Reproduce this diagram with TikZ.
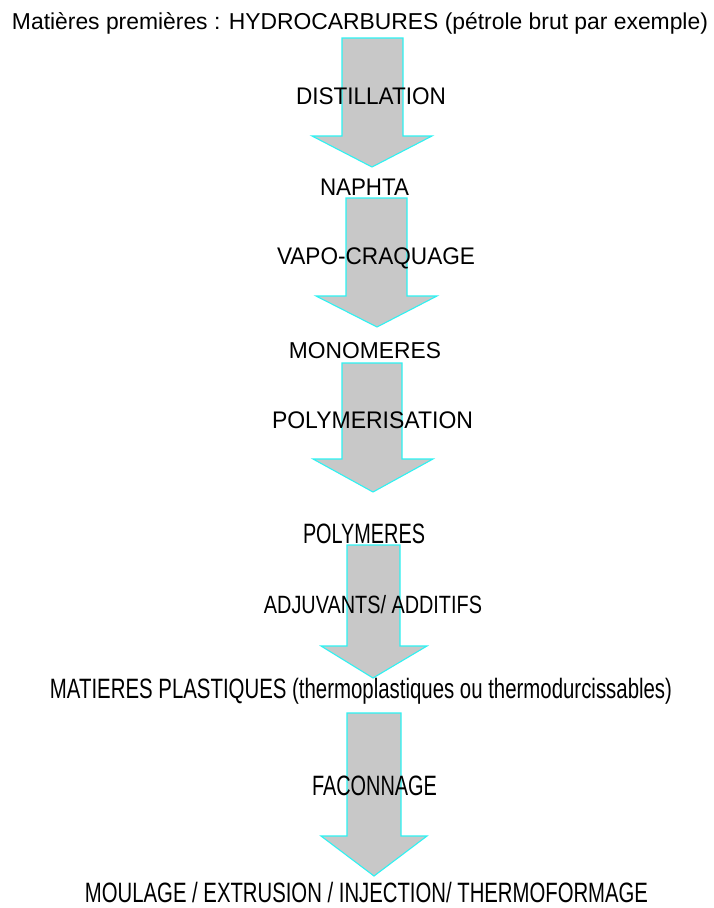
\documentclass[tikz,border=0pt]{standalone}
\usepackage{fontspec}
\setmainfont{Liberation Sans}
\definecolor{arrowfill}{HTML}{C8C8C8}
\definecolor{arrowline}{HTML}{2EF2F2}
\newcommand{\fittext}[3]{\resizebox{#1pt}{\height}{\fontsize{#2}{#2}\selectfont #3}}
\newcommand{\blockarrow}[8]{%
  \draw[blockarrow] (#1,#3) -- (#2,#3) -- (#2,#4) -- (#6,#4) -- (#7,#8) -- (#5,#4) -- (#1,#4) -- cycle;}
\begin{document}
\begin{tikzpicture}[x=1pt,y=-1pt,
  blockarrow/.style={fill=arrowfill,draw=arrowline,line width=1.1pt,line join=miter},
  lbl/.style={inner sep=0pt,anchor=base,text=black}]
\useasboundingbox[fill=white] (0,0) rectangle (713,908);
% block arrows: shaft left, shaft right, top, shoulder, head left, head right, tip x, tip y
\blockarrow{342}{403}{38}{136}{312}{432}{372}{167}
\blockarrow{346}{407}{198}{296}{316}{437}{377}{327}
\blockarrow{342}{402}{363}{459}{313}{433}{373}{492}
\blockarrow{347}{400}{545}{646}{321}{427}{373}{678}
\blockarrow{347}{401}{713}{836}{321}{427}{374}{876}
% labels
\node[lbl] (raw) at (360,29) {\fittext{696}{23}{Matières premières : HYDROCARBURES (pétrole brut par exemple)}};
\node[lbl] (dist) at (371,104) {\fittext{150}{24}{DISTILLATION}};
\node[lbl] (naphta) at (364.5,195) {\fittext{89}{24}{NAPHTA}};
\node[lbl] (vapo) at (376,264) {\fittext{198}{24}{VAPO-CRAQUAGE}};
\node[lbl] (mono) at (365,358) {\fittext{152}{23}{MONOMERES}};
\node[lbl] (polym) at (372.5,428) {\fittext{201}{24}{POLYMERISATION}};
\node[lbl] (poly) at (364,543) {\fittext{122}{28}{POLYMERES}};
\node[lbl] (adj) at (373,613) {\fittext{218}{25}{ADJUVANTS/ ADDITIFS}};
\node[lbl] (mat) at (361,698) {\fittext{622}{28}{MATIERES PLASTIQUES (thermoplastiques ou thermodurcissables)}};
\node[lbl] (fac) at (374.5,795) {\fittext{125}{28}{FACONNAGE}};
\node[lbl] (moul) at (366.5,902) {\fittext{563}{28}{MOULAGE / EXTRUSION / INJECTION/ THERMOFORMAGE}};
\end{tikzpicture}
\end{document}
